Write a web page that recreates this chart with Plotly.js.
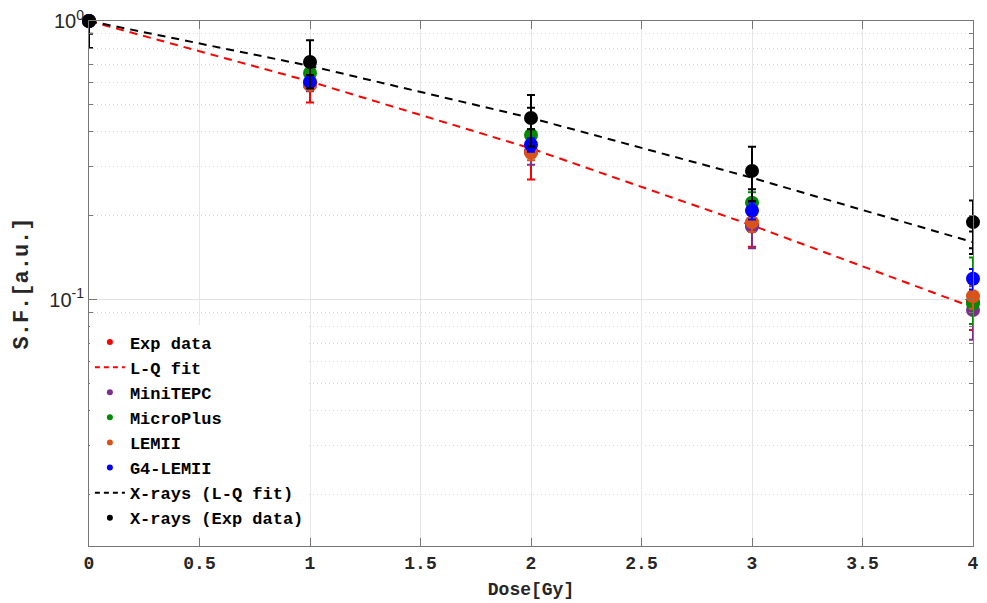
<!DOCTYPE html>
<html>
<head>
<meta charset="utf-8">
<script src="https://cdn.plot.ly/plotly-3.0.1.min.js"></script>
<style>html,body{margin:0;padding:0;background:#fff;}#chart{width:987px;height:603px;}</style>
</head>
<body>
<div id="chart"></div>
<script>
// Data
const doses = [0, 1, 2, 3, 4];
const expData = [1, 0.60, 0.34, 0.185, 0.098];
const expErr = [0, 0.09, 0.07, 0.03, 0.02];
const lqFit = [1, 0.607, 0.349, 0.185, 0.094];
const miniTEPC = [1, 0.59, 0.34, 0.183, 0.092];
const miniTEPCErr = [0, 0.03, 0.035, 0.03, 0.02];
const microPlus = [1, 0.651, 0.39, 0.223, 0.097];
const microPlusErrPlus = [0, 0.02, 0.02, 0.02, 0.045];
const microPlusErrMinus = [0, 0.02, 0.02, 0.02, 0.015];
const lemii = [1, 0.59, 0.337, 0.19, 0.103];
const lemiiErr = [0, 0.02, 0.02, 0.015, 0.01];
const g4lemii = [1, 0.605, 0.36, 0.209, 0.119];
const g4lemiiErr = [0, 0.02, 0.02, 0.015, 0.01];
const xraysLQ = [1, 0.69, 0.449, 0.274, 0.161];
const xraysLQErr = [0.1, 0.05, 0.04, 0.025, 0.015];
const xraysExp = [1, 0.713, 0.449, 0.29, 0.19];
const xraysExpErrPlus = [0, 0.14, 0.094, 0.064, 0.037];
const xraysExpErrMinus = [0.2, 0.14, 0.094, 0.064, 0.037];

const names = ['Exp data', 'L-Q fit', 'MiniTEPC', 'MicroPlus', 'LEMII', 'G4-LEMII', 'X-rays (L-Q fit)', 'X-rays (Exp data)'];
const colors = ['#ff0000', '#ff0000', '#7e2f8e', '#008c00', '#d95319', '#0000ff', '#000000', '#000000'];

const xTicks = [0, 0.5, 1, 1.5, 2, 2.5, 3, 3.5, 4];
const xTickText = ['0', '0.5', '1', '1.5', '2', '2.5', '3', '3.5', '4'];
const yTicks = [0.1, 1];
const yTickText = ['10<sup>-1</sup>', '10<sup>0</sup>'];
const yMinor = [0.02,0.03,0.04,0.05,0.06,0.07,0.08,0.09,0.2,0.3,0.4,0.5,0.6,0.7,0.8,0.9];

function pts(y, errP, errM, i) {
  const t = {
    x: doses, y: y, type: 'scatter', mode: 'markers', name: names[i],
    marker: {color: colors[i], size: 14}, showlegend: false, cliponaxis: false
  };
  if (errP) {
    t.error_y = {type: 'data', symmetric: false, array: errP, arrayminus: errM || errP,
      color: colors[i], thickness: 2, width: 4};
  }
  return t;
}
function fit(y, err, i) {
  return {
    x: doses, y: y, type: 'scatter', mode: 'lines', name: names[i], showlegend: false,
    line: {color: colors[i], width: 2, dash: '8px,6px'},
    error_y: {type: 'data', array: err, color: colors[i], thickness: 2, width: 4, visible: !!err}
  };
}
const traces = [
  pts(expData, expErr, null, 0),
  fit(lqFit, null, 1),
  pts(miniTEPC, miniTEPCErr, null, 2),
  pts(microPlus, microPlusErrPlus, microPlusErrMinus, 3),
  pts(lemii, lemiiErr, null, 4),
  pts(g4lemii, g4lemiiErr, null, 5),
  fit(xraysLQ, xraysLQErr, 6),
  pts(xraysExp, xraysExpErrPlus, xraysExpErrMinus, 7)
];
// legend entries
names.forEach((n, i) => {
  const isLine = (i === 1 || i === 6);
  traces.push({
    x: [null], y: [null], type: 'scatter', name: n,
    mode: isLine ? 'lines' : 'markers',
    marker: {color: colors[i], size: 6},
    line: {color: colors[i], width: 2, dash: '5px,4px'}
  });
});

const monoBold = 'Liberation Mono, Courier New, monospace';
const layout = {
  width: 987, height: 603,
  margin: {l: 89, r: 14, t: 21, b: 57},
  paper_bgcolor: '#fff', plot_bgcolor: '#fff',
  showlegend: true,
  legend: {
    x: 0.001, y: 0.02, xanchor: 'left', yanchor: 'bottom',
    bgcolor: '#ffffff', borderwidth: 0, tracegroupgap: 0,
    font: {family: monoBold, size: 17, color: '#000', weight: 'bold'},
    itemwidth: 30
  },
  xaxis: {
    range: [0, 4], tickvals: xTicks, ticktext: xTickText,
    showgrid: true, gridcolor: '#e6e6e6', gridwidth: 1,
    zeroline: false, showline: true, linecolor: '#777', linewidth: 1, mirror: 'ticks',
    ticks: 'inside', ticklen: 8, tickcolor: '#777',
    tickfont: {family: monoBold, size: 18, color: '#262626', weight: 'bold'},
    title: {text: 'Dose[Gy]', font: {family: monoBold, size: 18, color: '#262626', weight: 'bold'}, standoff: 9}
  },
  yaxis: {
    type: 'log', range: [Math.log10(0.0131), 0],
    tickvals: yTicks, ticktext: yTickText,
    showgrid: true, gridcolor: '#e3e3e3', gridwidth: 1,
    zeroline: false, showline: true, linecolor: '#777', linewidth: 1, mirror: 'ticks',
    ticks: 'inside', ticklen: 8, tickcolor: '#777',
    tickfont: {family: 'Liberation Sans, Arial, sans-serif', size: 20, color: '#262626'},
    minor: {tickvals: yMinor, ticks: 'inside', ticklen: 4, tickcolor: '#777', showgrid: true, gridcolor: '#d6d6d6', griddash: '1px,3px', gridwidth: 1},
    title: {text: 'S.F.[a.u.]', font: {family: monoBold, size: 22, color: '#262626', weight: 'bold'}, standoff: 14}
  }
};
Plotly.newPlot('chart', traces, layout, {displayModeBar: false, staticPlot: true});
</script>
</body>
</html>
